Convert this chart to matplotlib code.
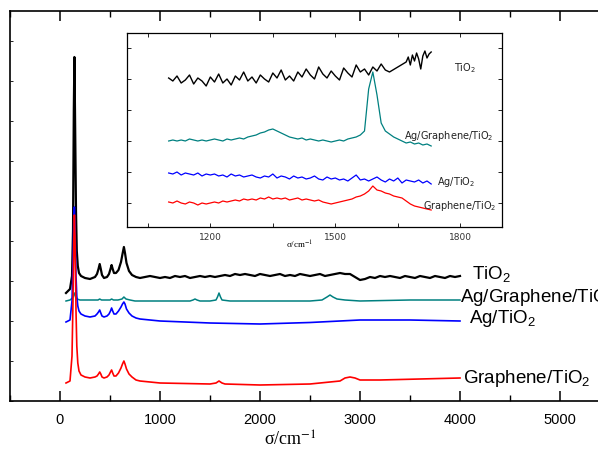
import numpy as np
import matplotlib
matplotlib.use('Agg')
import matplotlib.pyplot as plt
from matplotlib.ticker import MultipleLocator, FixedLocator, NullFormatter

plt.rcParams['font.family'] = 'Liberation Sans'
plt.rcParams['mathtext.fontset'] = 'custom'
plt.rcParams['mathtext.rm'] = 'Liberation Sans'
plt.rcParams['mathtext.it'] = 'Liberation Sans:italic'

# ---------------- full Raman spectra (wavenumber, offset intensity) ----------------
# low-wavenumber region shared by the anatase bands (144, 397, 516, 639)
low_x = [60, 100, 120, 130, 138, 144, 150, 155, 160, 168, 178, 190, 210, 250, 300, 350,
         370, 385, 397, 408, 420, 440, 470, 490, 505, 516, 527, 540, 560, 585, 610, 625,
         639, 650, 665, 690, 720, 760]

tio2_low = [108, 112, 125, 170, 290, 344, 290, 240, 190, 150, 135, 128, 125, 123, 122, 124,
            127, 132, 137, 132, 126, 123, 124, 127, 132, 136, 132, 128, 128, 131, 139, 147,
            154, 148, 138, 130, 126, 124]
tio2_tail_x = np.arange(800, 4001, 50)
tio2_tail = [123, 124, 125, 124, 123, 124, 123, 125, 124, 125,
             123, 124, 125, 124, 125, 124, 125, 126, 125, 127,
             126, 127, 126, 125, 127, 126, 125, 126, 127, 125,
             126, 125, 127, 126, 125, 126, 127, 125, 126, 127,
             128, 127, 127, 124, 121, 122, 124, 123, 125, 124,
             125, 124, 123, 125, 124, 123, 125, 124, 123, 125,
             124, 123, 125, 124, 125]

agg_x = [60, 100, 125, 135, 144, 155, 170, 200, 300, 380, 397, 415, 450, 500, 516, 535,
         580, 620, 639, 660, 700, 750, 1000, 1300, 1330, 1350, 1370, 1400, 1500, 1560,
         1575, 1590, 1605, 1620, 1700, 2000, 2500, 2620, 2670, 2700, 2730, 2770, 2850,
         3000, 3500, 4000]
agg_y = [100, 101, 103, 106, 108, 104, 102, 101, 101, 101, 102, 101, 101, 101, 102, 101,
         101, 102, 104, 102, 101, 100, 100, 100, 101, 102, 101, 100, 100, 101,
         104, 108, 104, 101, 100, 100, 100, 101, 104, 106, 104, 102, 101,
         100, 101, 101]

ag_low = [79, 81, 100, 140, 180, 194, 175, 150, 125, 105, 95, 90, 87, 85, 84, 85,
          87, 89, 91, 88, 85, 84, 85, 87, 90, 93, 90, 87, 87, 90, 94, 97,
          99, 97, 92, 88, 85, 83]
ag_tail_x = [800, 1000, 1500, 2000, 2500, 2800, 3000, 3500, 4000]
ag_tail = [82, 80, 78, 77, 78.5, 80, 81, 81, 80]

gr_low = [18, 20, 45, 100, 160, 186, 165, 130, 90, 55, 38, 30, 26, 24, 23, 24,
          25, 27, 29, 27, 24, 23, 24, 26, 29, 31, 28, 25, 25, 28, 33, 37,
          40, 37, 32, 27, 24, 21]
gr_tail_x = [800, 1000, 1500, 1560, 1590, 1620, 1650, 2000, 2500, 2800, 2850, 2900,
             2950, 3000, 3200, 4000]
gr_tail = [20, 18, 17, 18, 20, 18, 17, 16, 17, 20, 23, 24, 23, 21, 21, 23]

# ---------------- zoomed D/G band region ----------------
ins_x = np.arange(1100, 1731, 10)
ins_tio2_x = list(np.arange(1100, 1631, 10)) + [1670, 1675, 1680, 1685, 1690, 1695, 1700,
                                               1705, 1710, 1715, 1720, 1725, 1730]
ins_tio2_y = [149, 146, 151, 144, 147, 152, 143, 149, 146, 141,
              150, 145, 153, 144, 148, 142, 151, 147, 155, 146,
              150, 144, 152, 148, 145, 154, 149, 157, 147, 151,
              146, 155, 150, 158, 152, 148, 160, 153, 149, 156,
              151, 147, 159, 154, 150, 162, 155, 158, 152, 160,
              156, 163, 157, 155,
              165, 170, 162, 172, 166, 174, 168, 158, 171, 176, 169, 173, 175]
ins_agg_y = [86, 87, 86, 87, 86, 88, 87, 86, 87, 86,
             87, 88, 87, 86, 88, 87, 88, 89, 88, 90,
             91, 92, 94, 95, 97, 98, 96, 94, 92, 90,
             89, 88, 89, 87, 88, 87, 86, 87, 86, 85,
             86, 87, 86, 88, 89, 90, 92, 96, 138, 155,
             132, 104, 96, 93, 90, 88, 86, 84, 85, 83,
             84, 82, 83, 81]
ins_ag_y = [54, 53, 55, 52, 54, 53, 52, 54, 51, 53,
            52, 53, 51, 52, 50, 53, 51, 52, 50, 51,
            52, 50, 49, 51, 50, 53, 49, 51, 50, 48,
            51, 49, 50, 48, 49, 51, 48, 47, 50, 48,
            49, 47, 48, 46, 49, 52, 47, 48, 46, 48,
            50, 47, 45, 48, 46, 49, 44, 47, 46, 45,
            47, 44, 46, 43]
ins_gr_y = [25, 24, 26, 24, 23, 25, 24, 22, 24, 23,
            24, 25, 24, 26, 25, 26, 27, 26, 28, 27,
            28, 27, 29, 28, 30, 28, 29, 28, 29, 27,
            28, 29, 27, 28, 27, 26, 27, 25, 24, 23,
            24, 25, 26, 27, 28, 30, 31, 33, 36, 41,
            37, 36, 34, 33, 31, 30, 29, 26, 23, 21,
            20, 19, 18, 17]

teal = '#008080'

fig = plt.figure(figsize=(5.98, 4.57), dpi=100)
ax = fig.add_axes([10 / 598, 1 - 401 / 457, 600 / 598, 390 / 457])
ax.plot(low_x + list(tio2_tail_x), tio2_low + tio2_tail, color='black', lw=1.6)
ax.plot(agg_x, agg_y, color=teal, lw=1.1)
ax.plot(low_x + ag_tail_x, ag_low + ag_tail, color='blue', lw=1.2)
ax.plot(low_x + gr_tail_x, gr_low + gr_tail, color='red', lw=1.2)
ax.set_xlim(-500, 5500)
ax.set_ylim(0, 390)
ax.xaxis.set_major_locator(MultipleLocator(1000))
ax.xaxis.set_minor_locator(MultipleLocator(500))
ax.yaxis.set_major_locator(MultipleLocator(40))
ax.yaxis.set_major_formatter(NullFormatter())
ax.tick_params(axis='x', which='major', direction='in', length=7, width=1.1,
               top=True, labelsize=10.5, pad=9)
ax.tick_params(axis='x', which='minor', direction='in', length=4, width=1.0, top=True)
ax.tick_params(axis='y', direction='in', length=2, width=0.6)
for s in ax.spines.values():
    s.set_linewidth(1.2)

lab = dict(fontsize=13.5, va='baseline', ha='left')
ax.text(4120, 122, 'TiO$_2$', **lab)
ax.text(4000, 99, 'Ag/Graphene/TiO$_2$', **lab)
ax.text(4090, 78, 'Ag/TiO$_2$', **lab)
ax.text(4030, 18, 'Graphene/TiO$_2$', **lab)
fig.text(290 / 598, 1 - 440 / 457, 'σ/cm$^{-1}$', family='Liberation Serif',
         fontsize=13, ha='center', va='center', math_fontfamily='stix')

# inset
ia = fig.add_axes([127 / 598, 1 - 227 / 457, 375 / 598, 194 / 457])
ia.plot(ins_tio2_x, ins_tio2_y, color='black', lw=1.0)
ia.plot(ins_x, ins_agg_y, color=teal, lw=0.9)
ia.plot(ins_x, ins_ag_y, color='blue', lw=0.9)
ia.plot(ins_x, ins_gr_y, color='red', lw=0.9)
ia.set_xlim(1000, 1900)
ia.set_ylim(0, 194)
ia.xaxis.set_major_locator(FixedLocator([1200, 1500, 1800]))
ia.xaxis.set_minor_locator(FixedLocator([1050, 1350, 1650]))
ia.yaxis.set_major_locator(FixedLocator([24, 55, 86, 117, 148, 179]))
ia.yaxis.set_major_formatter(NullFormatter())
ia.tick_params(axis='x', which='both', direction='in', length=3, width=0.6, top=True,
               labelsize=6.5, labelcolor='#333333', pad=4)
ia.tick_params(axis='y', direction='in', length=3, width=0.6, right=True)
for t in ia.get_xticklabels():
    t.set_family('DejaVu Sans')
for s in ia.spines.values():
    s.set_linewidth(0.9)

il = dict(fontsize=7, family='DejaVu Sans', va='baseline', ha='left', color='#222222')
ia.text(1785, 156, 'TiO$_2$', math_fontfamily='dejavusans', **il)
ia.text(1665, 88, 'Ag/Graphene/TiO$_2$', math_fontfamily='dejavusans', **il)
ia.text(1745, 42, 'Ag/TiO$_2$', math_fontfamily='dejavusans', **il)
ia.text(1710, 18, 'Graphene/TiO$_2$', math_fontfamily='dejavusans', **il)
ia.text((300 - 127) / 375, -0.095, 'σ/cm$^{-1}$', transform=ia.transAxes, fontsize=6.5,
        family='Liberation Serif', ha='center', va='center', math_fontfamily='stix')

fig.savefig('out.png', dpi=100)
